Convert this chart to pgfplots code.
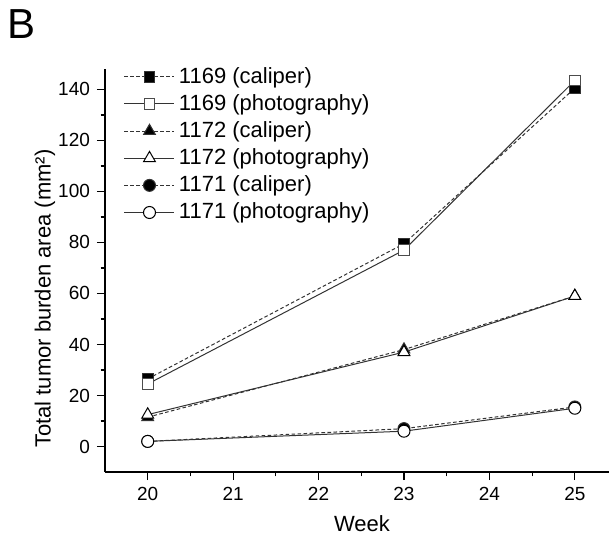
\documentclass[border=0pt]{standalone}
\usepackage{fontspec}
\setmainfont{Liberation Sans}
\usepackage{pgfplots}
\pgfplotsset{compat=1.18}

\begin{document}
\begin{tikzpicture}
\useasboundingbox (-52.5pt,-31.5pt) rectangle (252pt,236pt);
\begin{axis}[
  at={(0,0)}, anchor=south west,
  scale only axis, width=252pt, height=201.5pt,
  xmin=19.5, xmax=25.4, ymin=-10, ymax=148,
  clip mode=individual,
  axis lines*=left,
  axis line style={black, line width=0.6pt},
  xtick={20,21,22,23,24,25}, ytick={0,20,40,60,80,100,120,140},
  minor x tick num=1, minor y tick num=1,
  tick align=outside,
  major tick length=4pt, minor tick length=2.2pt,
  tick style={black, line width=0.6pt},
  /pgf/number format/assume math mode=true,
  ticklabel style={font=\fontsize{9.5}{11}\selectfont},
  xlabel={Week}, ylabel={Total tumor burden area (mm²)},
  label style={font=\fontsize{11}{13}\selectfont},
  xlabel style={at={(axis description cs:0.51,-0.129)}, anchor=center},
  ylabel style={at={(axis description cs:-0.119,0.43)}, anchor=center},
  legend style={draw=none, fill=none, at={(axis description cs:0.025,1.025)}, anchor=north west,
    font=\fontsize{11}{12}\selectfont, row sep=0.1pt,
    /tikz/every even column/.append style={column sep=1pt}},
  legend cell align=left,
  legend image code/.code={\draw[mark repeat=2,mark phase=2,#1] plot coordinates {(0pt,0pt) (12.5pt,0pt) (25pt,0pt)};},
  every axis plot/.append style={line width=0.5pt},
  caliper/.style={black!80, dash pattern=on 1.8pt off 1.2pt},
  photo/.style={black!80, solid},
]
\addplot[caliper, mark=square*, mark size=2.7pt, mark options={solid, fill=black}]
  coordinates {(20,26.5) (23,79.5) (25,140.5)};
\addlegendentry{1169 (caliper)}
\addplot[photo, mark=square*, mark size=2.7pt, mark options={solid, fill=white, draw=black!70}]
  coordinates {(20,24.5) (23,77) (25,143.5)};
\addlegendentry{1169 (photography)}
\addplot[caliper, mark=triangle*, mark size=3.4pt, mark options={solid, fill=black}]
  coordinates {(20,11.5) (23,38) (25,59)};
\addlegendentry{1172 (caliper)}
\addplot[photo, mark=triangle*, mark size=3.4pt, mark options={solid, fill=white, draw=black}]
  coordinates {(20,12.5) (23,37) (25,59)};
\addlegendentry{1172 (photography)}
\addplot[caliper, mark=*, mark size=3pt, mark options={solid, fill=black}]
  coordinates {(20,2) (23,7) (25,15.5)};
\addlegendentry{1171 (caliper)}
\addplot[photo, mark=*, mark size=3pt, mark options={solid, fill=white, draw=black}]
  coordinates {(20,2) (23,6) (25,15)};
\addlegendentry{1171 (photography)}
\end{axis}
\node[font=\fontsize{21}{24}\selectfont] at (-41.5pt,224pt) {B};
\end{tikzpicture}
\end{document}
